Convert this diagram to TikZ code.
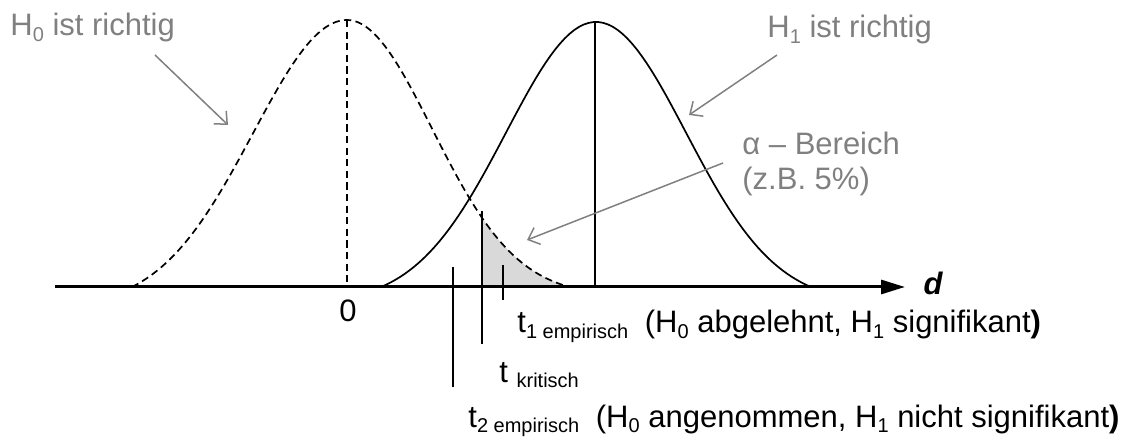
\documentclass[tikz,border=0pt]{standalone}
\usepackage{fontspec}
\setmainfont{Liberation Sans}
\usetikzlibrary{arrows.meta}

\newcommand{\tsub}[1]{\raisebox{-2.8pt}{\fontsize{10}{12}\selectfont #1}}

\begin{document}
\begin{tikzpicture}[x=0.5pt,y=-0.5pt,
  txt/.style={inner sep=0pt,font=\fontsize{15.5}{17.5}\selectfont},
  lbl/.style={txt,text=black!50},
  pointer/.style={draw=black!50,line width=0.75pt,-{Straight Barb[length=5pt,width=9pt]}},
  curve/.style={line width=0.85pt},
  dcurve/.style={curve,dash pattern=on 3.6pt off 2.2pt},
  tick/.style={line width=0.85pt}]
\useasboundingbox (0,0) rectangle (1127,437);
% alpha region
\fill[black!15] (482,287) -- plot[domain=1.588:2.62,samples=30] ({347+85*\x},{287-267*(exp(-\x*\x/2)-0.0324)/0.9676}) -- cycle;
% axis
\coordinate (axstart) at (55,287);
\coordinate (axend) at (905,287);
\draw[line width=1.5pt,-{Triangle[length=12pt,width=7pt]}] (axstart) -- (axend);
\node[txt,font=\fontsize{15.5}{17.5}\selectfont\bfseries\itshape] (dlbl) at (933,283) {d};
\node[txt] (zero) at (348,311) {0};
% H0 curve
\draw[dcurve] plot[domain=-2.287:0,samples=60] ({347+94*\x},{287-267*(exp(-\x*\x/2)-0.0732)/0.9268})
  -- plot[domain=0:2.62,samples=60] ({347+85*\x},{287-267*(exp(-\x*\x/2)-0.0324)/0.9676});
\coordinate (h0top) at (347,20);
\coordinate (h0bot) at (347,287);
\draw[dcurve] (h0top) -- (h0bot);
% H1 curve
\draw[curve] plot[domain=-2.389:2.389,samples=90] ({596+90*\x},{287-265*(exp(-\x*\x/2)-0.0577)/0.9423});
\coordinate (h1top) at (595,22);
\coordinate (h1bot) at (595,287);
\draw[curve] (h1top) -- (h1bot);
% t values
\coordinate (t2top) at (453,267);
\coordinate (t2bot) at (453,387);
\coordinate (tktop) at (482,211);
\coordinate (tkbot) at (482,344);
\coordinate (t1top) at (503,265);
\coordinate (t1bot) at (503,300);
\draw[tick] (t2top) -- (t2bot);
\draw[tick] (tktop) -- (tkbot);
\draw[tick] (t1top) -- (t1bot);
\node[txt,anchor=base west] (t1lbl) at (517,333) {t\tsub{1 empirisch}\hspace{4pt} (H\tsub{0} abgelehnt, H\tsub{1} signifikant{\bfseries )}};
\node[txt,anchor=base west] (tklbl) at (499,382) {t \tsub{kritisch}};
\node[txt,anchor=base west] (t2lbl) at (468,427) {t\tsub{2 empirisch}\hspace{4pt} (H\tsub{0} angenommen, H\tsub{1} nicht signifikant{\bfseries )}};
% labels
\node[lbl,anchor=base west] (h0lbl) at (10,36) {H\tsub{0} ist richtig};
\node[lbl,anchor=base west] (h1lbl) at (767,38) {H\tsub{1} ist richtig};
\node[lbl,anchor=north west,align=left] (alphalbl) at (742,132) {α – Bereich\\(z.B. 5\%)};
\coordinate (h0from) at (155,55);
\coordinate (h0to) at (228,125);
\coordinate (h1from) at (777,55);
\coordinate (h1to) at (689,115);
\coordinate (afrom) at (723,163);
\coordinate (ato) at (527,240);
\draw[pointer] (h0from) -- (h0to);
\draw[pointer] (h1from) -- (h1to);
\draw[pointer] (afrom) -- (ato);
\end{tikzpicture}
\end{document}
